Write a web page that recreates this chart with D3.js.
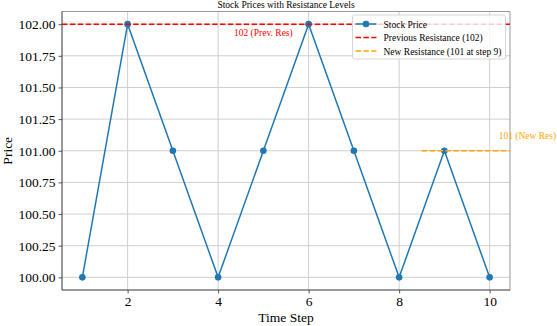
<!DOCTYPE html>
<html lang="en">
<head>
  <meta charset="UTF-8">
  <title>Stock Prices with Resistance Levels</title>
  <script src="https://d3js.org/d3.v7.min.js"></script>
  <style>
    body { margin: 0; background: #fff; overflow: hidden; }
    svg { display: block; font-family: "Liberation Serif", "Times New Roman", serif; }
  </style>
</head>
<body>
  <script>
    const steps = [1, 2, 3, 4, 5, 6, 7, 8, 9, 10];
    const prices = [100, 102, 101, 100, 101, 102, 101, 100, 101, 100];
    const xTicks = [2, 4, 6, 8, 10];
    const yTicks = [100, 100.25, 100.5, 100.75, 101, 101.25, 101.5, 101.75, 102];
    const prevResistance = 102;
    const newResistance = 101;
    const newResStart = 8.5;   // new level drawn from about step 8.5 to the right edge
    const legendItems = [
      { label: "Stock Price", color: "#1f77b4", dash: null, marker: true },
      { label: "Previous Resistance (102)", color: "#ff0000", dash: "5.5,2.4", marker: false },
      { label: "New Resistance (101 at step 9)", color: "#ffa500", dash: "5.5,2.4", marker: false }
    ];

    const width = 557, height = 326;
    const margin = { top: 11.5, right: 47, bottom: 36, left: 62 };
    const iw = width - margin.left - margin.right;
    const ih = height - margin.top - margin.bottom;

    const svg = d3.select("body").append("svg")
      .attr("width", width)
      .attr("height", height);

    const x = d3.scaleLinear().domain([0.55, 10.45]).range([0, iw]);
    const y = d3.scaleLinear().domain([99.9, 102.1]).range([ih, 0]);

    const g = svg.append("g").attr("transform", `translate(${margin.left},${margin.top})`);

    svg.append("defs").append("clipPath").attr("id", "clip")
      .append("rect").attr("width", iw).attr("height", ih);

    // grid
    g.append("g").selectAll("line").data(xTicks).join("line")
      .attr("x1", d => x(d)).attr("x2", d => x(d))
      .attr("y1", 0).attr("y2", ih)
      .attr("stroke", "#cfcfcf").attr("stroke-width", 1);
    g.append("g").selectAll("line").data(yTicks).join("line")
      .attr("y1", d => y(d)).attr("y2", d => y(d))
      .attr("x1", 0).attr("x2", iw)
      .attr("stroke", "#cfcfcf").attr("stroke-width", 1);

    // axes
    const xAxis = g.append("g").attr("transform", `translate(0,${ih})`)
      .call(d3.axisBottom(x).tickValues(xTicks).tickFormat(d3.format("d")).tickSize(3.5).tickPadding(3));
    const yAxis = g.append("g")
      .call(d3.axisLeft(y).tickValues(yTicks).tickFormat(d3.format(".2f")).tickSize(3.5).tickPadding(3));
    [xAxis, yAxis].forEach(a => {
      a.select(".domain").remove();
      a.selectAll(".tick line").attr("stroke", "#333").attr("stroke-width", 0.8);
      a.selectAll(".tick text").attr("font-size", 13.5).attr("fill", "#000")
        .attr("font-family", "'Liberation Serif', serif");
    });

    // spines
    g.append("line").attr("x1", 0).attr("x2", iw).attr("y1", 0).attr("y2", 0).attr("stroke", "#999");
    g.append("line").attr("x1", iw).attr("x2", iw).attr("y1", 0).attr("y2", ih).attr("stroke", "#999");
    g.append("line").attr("x1", 0).attr("x2", 0).attr("y1", 0).attr("y2", ih).attr("stroke", "#333");
    g.append("line").attr("x1", 0).attr("x2", iw).attr("y1", ih).attr("y2", ih).attr("stroke", "#333");

    const plot = g.append("g").attr("clip-path", "url(#clip)");

    // price line
    const pts = steps.map((s, i) => [s, prices[i]]);
    plot.append("path").datum(pts)
      .attr("fill", "none").attr("stroke", "#1f77b4").attr("stroke-width", 1.5)
      .attr("d", d3.line().x(d => x(d[0])).y(d => y(d[1])));
    plot.selectAll("circle").data(pts).join("circle")
      .attr("cx", d => x(d[0])).attr("cy", d => y(d[1])).attr("r", 3.3)
      .attr("fill", "#1f77b4");

    // resistance lines
    plot.append("line")
      .attr("x1", 0).attr("x2", iw)
      .attr("y1", y(prevResistance)).attr("y2", y(prevResistance))
      .attr("stroke", "#ff0000").attr("stroke-width", 1.5).attr("stroke-dasharray", "5.5,2.4");
    plot.append("line")
      .attr("x1", x(newResStart)).attr("x2", iw)
      .attr("y1", y(newResistance)).attr("y2", y(newResistance))
      .attr("stroke", "#ffa500").attr("stroke-width", 1.5).attr("stroke-dasharray", "5.5,2.4");

    g.append("text")
      .attr("x", x(5)).attr("y", y(prevResistance) + 12)
      .attr("text-anchor", "middle").attr("font-size", 9.5).attr("fill", "#ff0000")
      .text("102 (Prev. Res)");
    g.append("text")
      .attr("x", x(10.2)).attr("y", y(newResistance) - 11.5)
      .attr("font-size", 9.5).attr("fill", "#ffa500")
      .text("101 (New Res)");

    // title and labels
    svg.append("text")
      .attr("x", margin.left + iw / 2).attr("y", 8)
      .attr("text-anchor", "middle").attr("font-size", 9.5)
      .text("Stock Prices with Resistance Levels");
    svg.append("text")
      .attr("x", margin.left + iw / 2).attr("y", 322)
      .attr("text-anchor", "middle").attr("font-size", 13.5)
      .text("Time Step");
    svg.append("text")
      .attr("transform", `translate(12,${margin.top + ih / 2}) rotate(-90)`)
      .attr("text-anchor", "middle").attr("font-size", 13.5)
      .text("Price");

    // legend
    const lg = g.append("g").attr("transform", `translate(${iw - 157.5},3.5)`);
    lg.append("rect")
      .attr("width", 153).attr("height", 44).attr("rx", 2)
      .attr("fill", "#fff").attr("fill-opacity", 0.8)
      .attr("stroke", "#ccc").attr("stroke-width", 0.8);
    legendItems.forEach((d, i) => {
      const row = lg.append("g").attr("transform", `translate(0,${9 + i * 13.5})`);
      row.append("line")
        .attr("x1", 3).attr("x2", 24)
        .attr("stroke", d.color).attr("stroke-width", 1.5)
        .attr("stroke-dasharray", d.dash);
      if (d.marker) row.append("circle").attr("cx", 13.5).attr("r", 3.3).attr("fill", d.color);
      row.append("text")
        .attr("x", 31).attr("y", 3.5).attr("font-size", 9.5)
        .text(d.label);
    });
  </script>
</body>
</html>
